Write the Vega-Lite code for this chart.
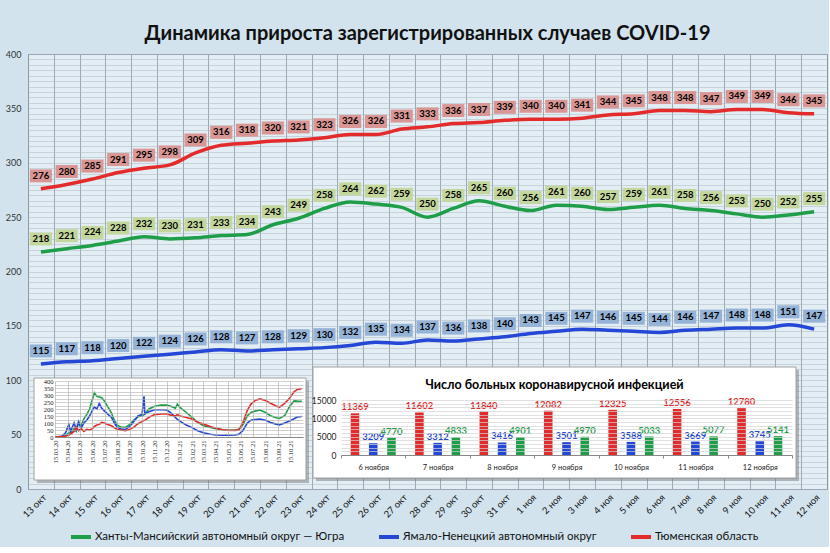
{
  "$schema": "https://vega.github.io/schema/vega-lite/v6.json",
  "background": "#d2e3ee",
  "padding": {"left": 5, "top": 24, "right": 2, "bottom": 2},
  "title": {
    "text": "Динамика прироста зарегистрированных случаев COVID-19",
    "fontSize": 20,
    "font": "Lato",
    "fontWeight": "bold",
    "color": "#111111",
    "anchor": "middle",
    "offset": 6
  },
  "datasets": {
    "main": [
      {"d": "13 окт", "h": 218, "y": 115, "t": 276},
      {"d": "14 окт", "h": 221, "y": 117, "t": 280},
      {"d": "15 окт", "h": 224, "y": 118, "t": 285},
      {"d": "16 окт", "h": 228, "y": 120, "t": 291},
      {"d": "17 окт", "h": 232, "y": 122, "t": 295},
      {"d": "18 окт", "h": 230, "y": 124, "t": 298},
      {"d": "19 окт", "h": 231, "y": 126, "t": 309},
      {"d": "20 окт", "h": 233, "y": 128, "t": 316},
      {"d": "21 окт", "h": 234, "y": 127, "t": 318},
      {"d": "22 окт", "h": 243, "y": 128, "t": 320},
      {"d": "23 окт", "h": 249, "y": 129, "t": 321},
      {"d": "24 окт", "h": 258, "y": 130, "t": 323},
      {"d": "25 окт", "h": 264, "y": 132, "t": 326},
      {"d": "26 окт", "h": 262, "y": 135, "t": 326},
      {"d": "27 окт", "h": 259, "y": 134, "t": 331},
      {"d": "28 окт", "h": 250, "y": 137, "t": 333},
      {"d": "29 окт", "h": 258, "y": 136, "t": 336},
      {"d": "30 окт", "h": 265, "y": 138, "t": 337},
      {"d": "31 окт", "h": 260, "y": 140, "t": 339},
      {"d": "1 ноя", "h": 256, "y": 143, "t": 340},
      {"d": "2 ноя", "h": 261, "y": 145, "t": 340},
      {"d": "3 ноя", "h": 260, "y": 147, "t": 341},
      {"d": "4 ноя", "h": 257, "y": 146, "t": 344},
      {"d": "5 ноя", "h": 259, "y": 145, "t": 345},
      {"d": "6 ноя", "h": 261, "y": 144, "t": 348},
      {"d": "7 ноя", "h": 258, "y": 146, "t": 348},
      {"d": "8 ноя", "h": 256, "y": 147, "t": 347},
      {"d": "9 ноя", "h": 253, "y": 148, "t": 349},
      {"d": "10 ноя", "h": 250, "y": 148, "t": 349},
      {"d": "11 ноя", "h": 252, "y": 151, "t": 346},
      {"d": "12 ноя", "h": 255, "y": 147, "t": 345}
    ],
    "history": [
      {"date": "2020-03-15", "h": 0, "y": 0, "t": 0},
      {"date": "2020-04-01", "h": 0, "y": 5, "t": 3},
      {"date": "2020-04-10", "h": 10, "y": 30, "t": 5},
      {"date": "2020-04-18", "h": 30, "y": 90, "t": 15},
      {"date": "2020-04-22", "h": 25, "y": 40, "t": 20},
      {"date": "2020-05-01", "h": 60, "y": 100, "t": 40},
      {"date": "2020-05-06", "h": 40, "y": 55, "t": 70},
      {"date": "2020-05-12", "h": 100, "y": 110, "t": 45},
      {"date": "2020-05-18", "h": 80, "y": 60, "t": 60},
      {"date": "2020-05-25", "h": 130, "y": 100, "t": 40},
      {"date": "2020-06-01", "h": 160, "y": 120, "t": 55},
      {"date": "2020-06-08", "h": 200, "y": 150, "t": 50},
      {"date": "2020-06-15", "h": 270, "y": 190, "t": 60},
      {"date": "2020-06-20", "h": 315, "y": 215, "t": 75},
      {"date": "2020-06-26", "h": 290, "y": 200, "t": 85},
      {"date": "2020-07-02", "h": 285, "y": 240, "t": 90},
      {"date": "2020-07-08", "h": 280, "y": 205, "t": 105},
      {"date": "2020-07-15", "h": 255, "y": 185, "t": 100},
      {"date": "2020-07-22", "h": 220, "y": 165, "t": 90},
      {"date": "2020-08-01", "h": 170, "y": 140, "t": 80},
      {"date": "2020-08-08", "h": 120, "y": 100, "t": 65},
      {"date": "2020-08-15", "h": 85, "y": 70, "t": 55},
      {"date": "2020-08-25", "h": 70, "y": 55, "t": 50},
      {"date": "2020-09-05", "h": 70, "y": 55, "t": 45},
      {"date": "2020-09-15", "h": 90, "y": 75, "t": 55},
      {"date": "2020-09-25", "h": 120, "y": 110, "t": 70},
      {"date": "2020-10-05", "h": 145, "y": 150, "t": 95},
      {"date": "2020-10-15", "h": 150, "y": 160, "t": 110},
      {"date": "2020-10-20", "h": 160, "y": 290, "t": 118},
      {"date": "2020-10-22", "h": 165, "y": 165, "t": 120},
      {"date": "2020-11-01", "h": 200, "y": 180, "t": 140},
      {"date": "2020-11-15", "h": 220, "y": 195, "t": 160},
      {"date": "2020-12-01", "h": 228, "y": 195, "t": 165},
      {"date": "2020-12-15", "h": 228, "y": 193, "t": 165},
      {"date": "2020-12-25", "h": 220, "y": 172, "t": 155},
      {"date": "2021-01-05", "h": 205, "y": 140, "t": 150},
      {"date": "2021-01-10", "h": 235, "y": 125, "t": 160},
      {"date": "2021-01-15", "h": 215, "y": 115, "t": 152},
      {"date": "2021-02-01", "h": 175, "y": 85, "t": 140},
      {"date": "2021-02-15", "h": 140, "y": 67, "t": 128},
      {"date": "2021-03-01", "h": 105, "y": 45, "t": 105},
      {"date": "2021-03-15", "h": 80, "y": 30, "t": 92},
      {"date": "2021-04-01", "h": 68, "y": 20, "t": 75},
      {"date": "2021-04-15", "h": 60, "y": 14, "t": 63},
      {"date": "2021-05-01", "h": 52, "y": 12, "t": 52},
      {"date": "2021-05-15", "h": 48, "y": 12, "t": 48},
      {"date": "2021-06-01", "h": 50, "y": 14, "t": 47},
      {"date": "2021-06-10", "h": 55, "y": 19, "t": 50},
      {"date": "2021-06-20", "h": 85, "y": 45, "t": 100},
      {"date": "2021-07-01", "h": 150, "y": 100, "t": 190},
      {"date": "2021-07-10", "h": 175, "y": 120, "t": 235},
      {"date": "2021-07-20", "h": 185, "y": 125, "t": 260},
      {"date": "2021-08-01", "h": 193, "y": 128, "t": 272},
      {"date": "2021-08-15", "h": 175, "y": 120, "t": 260},
      {"date": "2021-08-27", "h": 152, "y": 104, "t": 241},
      {"date": "2021-09-10", "h": 138, "y": 92, "t": 222},
      {"date": "2021-09-18", "h": 133, "y": 87, "t": 212},
      {"date": "2021-10-01", "h": 152, "y": 100, "t": 240},
      {"date": "2021-10-13", "h": 218, "y": 115, "t": 276},
      {"date": "2021-10-24", "h": 258, "y": 130, "t": 323},
      {"date": "2021-11-01", "h": 256, "y": 143, "t": 340},
      {"date": "2021-11-12", "h": 255, "y": 147, "t": 345}
    ],
    "bars": [
      {"d": "6 ноября", "t": 11369, "y": 3209, "h": 4770},
      {"d": "7 ноября", "t": 11602, "y": 3312, "h": 4833},
      {"d": "8 ноября", "t": 11840, "y": 3416, "h": 4901},
      {"d": "9 ноября", "t": 12082, "y": 3501, "h": 4970},
      {"d": "10 ноября", "t": 12325, "y": 3588, "h": 5033},
      {"d": "11 ноября", "t": 12556, "y": 3669, "h": 5077},
      {"d": "12 ноября", "t": 12780, "y": 3745, "h": 5141}
    ]
  },
  "width": 799,
  "height": 435,
  "view": {"fill": "#e3edf4", "stroke": "#8c98a4"},
  "layer": [
    {
      "data": {"name": "main"},
      "transform": [{"fold": ["h", "y", "t"], "as": ["r", "v"]}],
      "encoding": {
        "x": {
          "field": "d",
          "type": "ordinal",
          "sort": null,
          "scale": {"type": "band", "paddingInner": 0, "paddingOuter": 0},
          "axis": {
            "title": null,
            "orient": "bottom",
            "labelAngle": -45,
            "labelFontSize": 9.5,
            "labelColor": "#151515",
            "labelPadding": 3,
            "tickBand": "extent",
            "ticks": false,
            "domain": false,
            "grid": true,
            "gridColor": "#8c98a4",
            "gridWidth": 0.8
          }
        },
        "y": {
          "field": "v",
          "type": "quantitative",
          "scale": {"domain": [0, 400], "nice": false},
          "axis": {
            "title": null,
            "orient": "left",
            "tickCount": 80,
            "labelExpr": "datum.value % 50 === 0 ? datum.label : ''",
            "labelOverlap": false,
            "labelFontSize": 9,
            "labelColor": "#333333",
            "labelPadding": 7,
            "ticks": false,
            "domain": false,
            "grid": true,
            "gridColor": "#aab6c0",
            "gridWidth": 0.5
          }
        }
      },
      "layer": [
        {
          "mark": {"type": "line", "strokeWidth": 3.5, "interpolate": "monotone"},
          "encoding": {
            "color": {
              "field": "r",
              "type": "nominal",
              "scale": {"domain": ["h", "y", "t"], "range": ["#1f9e4a", "#2447d6", "#e42b2b"]},
              "legend": {
                "labelExpr": "datum.label == 'h' ? 'Ханты-Мансийский автономный округ — Югра' : datum.label == 'y' ? 'Ямало-Ненецкий автономный округ' : 'Тюменская область'"
              }
            }
          }
        },
        {
          "mark": {
            "type": "point",
            "shape": "M-1.7,-1H1.7V1H-1.7Z",
            "filled": true,
            "size": 169,
            "yOffset": -13,
            "opacity": 1,
            "strokeWidth": 0
          },
          "encoding": {
            "fill": {
              "field": "r",
              "type": "nominal",
              "scale": {"domain": ["h", "y", "t"], "range": ["#c3d69b", "#95b3d7", "#d99694"]},
              "legend": null
            }
          }
        },
        {
          "mark": {
            "type": "text",
            "yOffset": -13,
            "fontSize": 9.5,
            "fontWeight": "bold",
            "font": "Lato",
            "color": "#000000"
          },
          "encoding": {"text": {"field": "v", "type": "quantitative"}}
        }
      ]
    },
    {
      "data": {"values": [{"k": 1}]},
      "encoding": {
        "x": {"datum": 0, "type": "quantitative", "scale": {"domain": [0, 1], "range": [6, 278], "nice": false}, "axis": null},
        "x2": {"datum": 1},
        "y": {"datum": 0, "type": "quantitative", "scale": {"domain": [0, 1], "range": [426, 324], "nice": false}, "axis": null},
        "y2": {"datum": 1}
      },
      "layer": [
        {"mark": {"type": "rect", "color": "#6d6d6d", "opacity": 0.45, "xOffset": 3, "x2Offset": 3, "yOffset": 3, "y2Offset": 3}},
        {"mark": {"type": "rect", "color": "#ffffff", "stroke": "#a0a0a0", "strokeWidth": 1, "opacity": 1}}
      ]
    },
    {
      "data": {"values": [{"k": 1}]},
      "layer": [
        {
          "mark": {"type": "rect", "color": "#6d6d6d", "opacity": 0.45, "xOffset": 3, "x2Offset": 3, "yOffset": 3, "y2Offset": 3},
          "encoding": {
            "x": {"datum": 0, "type": "quantitative", "scale": {"domain": [0, 1], "range": [285, 768], "nice": false}, "axis": null},
            "x2": {"datum": 1},
            "y": {"datum": 0, "type": "quantitative", "scale": {"domain": [0, 1], "range": [424, 313], "nice": false}, "axis": null},
            "y2": {"datum": 1}
          }
        },
        {
          "mark": {"type": "rect", "color": "#ffffff", "stroke": "#a0a0a0", "strokeWidth": 1, "opacity": 1},
          "encoding": {
            "x": {"datum": 0, "type": "quantitative"},
            "x2": {"datum": 1},
            "y": {"datum": 0, "type": "quantitative"},
            "y2": {"datum": 1}
          }
        },
        {
          "mark": {
            "type": "text",
            "text": "Число больных коронавирусной инфекцией",
            "font": "Lato",
            "fontSize": 12.5,
            "fontWeight": "bold",
            "color": "#000000",
            "baseline": "middle",
            "align": "center"
          },
          "encoding": {
            "x": {"datum": 0.5, "type": "quantitative"},
            "y": {"datum": 0.838, "type": "quantitative"}
          }
        }
      ]
    },
    {
      "data": {"name": "history"},
      "transform": [{"fold": ["h", "y", "t"], "as": ["r", "v"]}],
      "mark": {"type": "line", "strokeWidth": 1.6, "opacity": 0},
      "encoding": {
        "x": {
          "field": "date",
          "type": "temporal",
          "scale": {
            "domain": [{"year": 2020, "month": 3, "date": 15}, {"year": 2021, "month": 11, "date": 15}],
            "range": [27, 275]
          },
          "axis": {
            "title": null,
            "orient": "top",
            "zindex": 1,
            "values": [
              {"year": 2020, "month": 3, "date": 15}, {"year": 2020, "month": 4, "date": 15},
              {"year": 2020, "month": 5, "date": 15}, {"year": 2020, "month": 6, "date": 15},
              {"year": 2020, "month": 7, "date": 15}, {"year": 2020, "month": 8, "date": 15},
              {"year": 2020, "month": 9, "date": 15}, {"year": 2020, "month": 10, "date": 15},
              {"year": 2020, "month": 11, "date": 15}, {"year": 2020, "month": 12, "date": 15},
              {"year": 2021, "month": 1, "date": 15}, {"year": 2021, "month": 2, "date": 15},
              {"year": 2021, "month": 3, "date": 15}, {"year": 2021, "month": 4, "date": 15},
              {"year": 2021, "month": 5, "date": 15}, {"year": 2021, "month": 6, "date": 15},
              {"year": 2021, "month": 7, "date": 15}, {"year": 2021, "month": 8, "date": 15},
              {"year": 2021, "month": 9, "date": 15}, {"year": 2021, "month": 10, "date": 15}
            ],
            "labels": false,
            "ticks": false,
            "domain": false,
            "grid": true,
            "gridColor": "#a8a8a8",
            "gridWidth": 0.6
          }
        },
        "y": {
          "field": "v",
          "type": "quantitative",
          "scale": {"domain": [0, 400], "range": [383, 327], "nice": false},
          "axis": null
        },
        "color": {"field": "r", "type": "nominal", "scale": {"domain": ["h", "y", "t"], "range": ["#1f9e4a", "#2447d6", "#e42b2b"]}}
      }
    },
    {
      "data": {"name": "history"},
      "transform": [{"fold": ["h", "y", "t"], "as": ["r", "v"]}],
      "mark": {"type": "line", "strokeWidth": 1.6, "zindex": 3},
      "encoding": {
        "x": {
          "field": "date",
          "type": "temporal",
          "scale": {
            "domain": [{"year": 2020, "month": 3, "date": 15}, {"year": 2021, "month": 11, "date": 15}],
            "range": [27, 275]
          },
          "axis": {
            "title": null,
            "orient": "bottom",
            "zindex": 1,
            "values": [
              {"year": 2020, "month": 3, "date": 15}, {"year": 2020, "month": 4, "date": 15},
              {"year": 2020, "month": 5, "date": 15}, {"year": 2020, "month": 6, "date": 15},
              {"year": 2020, "month": 7, "date": 15}, {"year": 2020, "month": 8, "date": 15},
              {"year": 2020, "month": 9, "date": 15}, {"year": 2020, "month": 10, "date": 15},
              {"year": 2020, "month": 11, "date": 15}, {"year": 2020, "month": 12, "date": 15},
              {"year": 2021, "month": 1, "date": 15}, {"year": 2021, "month": 2, "date": 15},
              {"year": 2021, "month": 3, "date": 15}, {"year": 2021, "month": 4, "date": 15},
              {"year": 2021, "month": 5, "date": 15}, {"year": 2021, "month": 6, "date": 15},
              {"year": 2021, "month": 7, "date": 15}, {"year": 2021, "month": 8, "date": 15},
              {"year": 2021, "month": 9, "date": 15}, {"year": 2021, "month": 10, "date": 15}
            ],
            "format": "%d.%m.%y",
            "labelAngle": -90,
            "labelFont": "Liberation Serif",
            "labelFontSize": 6.5,
            "labelColor": "#222222",
            "labelOverlap": false,
            "labelPadding": 3,
            "offset": -52,
            "ticks": false,
            "domain": true,
            "domainColor": "#888888",
            "grid": false
          }
        },
        "y": {
          "field": "v",
          "type": "quantitative",
          "scale": {"domain": [0, 400], "range": [383, 327], "nice": false},
          "axis": {
            "title": null,
            "orient": "left",
            "zindex": 1,
            "values": [0, 25, 50, 75, 100, 125, 150, 175, 200, 225, 250, 275, 300, 325, 350, 375, 400],
            "labelExpr": "datum.value % 50 === 0 ? datum.label : ''",
            "labelOverlap": false,
            "labelFont": "Liberation Serif",
            "labelFontSize": 6.5,
            "labelColor": "#222222",
            "labelPadding": 2,
            "offset": -27,
            "ticks": false,
            "domain": false,
            "grid": true,
            "gridColor": "#b0b0b0",
            "gridWidth": 0.6
          }
        },
        "color": {
          "field": "r",
          "type": "nominal",
          "scale": {"domain": ["h", "y", "t"], "range": ["#1f9e4a", "#2447d6", "#e42b2b"]},
          "legend": {
            "labelExpr": "datum.label == 'h' ? 'Ханты-Мансийский автономный округ — Югра' : datum.label == 'y' ? 'Ямало-Ненецкий автономный округ' : 'Тюменская область'"
          }
        }
      }
    },
    {
      "data": {"name": "bars"},
      "transform": [{"fold": ["t", "y", "h"], "as": ["r", "v"]}],
      "encoding": {
        "x": {
          "field": "d",
          "type": "nominal",
          "sort": null,
          "scale": {"range": [313, 764], "paddingInner": 0, "paddingOuter": 0},
          "axis": {
            "title": null,
            "orient": "bottom",
            "zindex": 1,
            "labelAngle": 0,
            "labelFontSize": 7.5,
            "labelColor": "#222222",
            "labelPadding": 5,
            "offset": -34,
            "tickBand": "extent",
            "ticks": true,
            "tickSize": 3,
            "tickColor": "#888888",
            "domain": true,
            "domainColor": "#888888",
            "grid": false
          }
        },
        "xOffset": {
          "field": "r",
          "type": "nominal",
          "sort": ["t", "y", "h"],
          "scale": {"paddingInner": 0.53, "paddingOuter": 0.53}
        },
        "y": {
          "field": "v",
          "type": "quantitative",
          "scale": {"domain": [0, 15000], "range": [401, 346], "nice": false},
          "axis": {
            "title": null,
            "orient": "left",
            "zindex": 1,
            "values": [0, 1000, 2000, 3000, 4000, 5000, 6000, 7000, 8000, 9000, 10000, 11000, 12000, 13000, 14000, 15000],
            "labelExpr": "datum.value % 5000 === 0 ? datum.label : ''",
            "format": "d",
            "labelOverlap": false,
            "labelFontSize": 8.5,
            "labelColor": "#222222",
            "labelPadding": 5,
            "offset": -313,
            "ticks": false,
            "domain": false,
            "grid": true,
            "gridColor": "#d2d2d2",
            "gridWidth": 0.7
          }
        },
        "color": {
          "field": "r",
          "type": "nominal",
          "scale": {"domain": ["h", "y", "t"], "range": ["#1f9e4a", "#2447d6", "#e42b2b"]},
          "legend": {
            "labelExpr": "datum.label == 'h' ? 'Ханты-Мансийский автономный округ — Югра' : datum.label == 'y' ? 'Ямало-Ненецкий автономный округ' : 'Тюменская область'"
          }
        }
      },
      "layer": [
        {"mark": {"type": "bar", "zindex": 3, "opacity": 1}},
        {
          "mark": {"type": "text", "baseline": "bottom", "dy": -1, "fontSize": 9.5, "fontWeight": "bold", "font": "Lato", "zindex": 3},
          "encoding": {"text": {"field": "v", "type": "quantitative", "format": "d"}}
        }
      ]
    }
  ],
  "resolve": {
    "scale": {"x": "independent", "y": "independent", "xOffset": "independent"},
    "axis": {"x": "independent", "y": "independent"}
  },
  "config": {
    "font": "Lato",
    "legend": {
      "orient": "none",
      "legendX": 41,
      "legendY": 471,
      "direction": "horizontal",
      "title": null,
      "symbolType": "stroke",
      "symbolStrokeWidth": 4,
      "symbolSize": 400,
      "labelFont": "Lato",
      "labelFontSize": 11.5,
      "labelColor": "#111111",
      "labelLimit": 400,
      "columnPadding": 26,
      "labelOffset": 2
    }
  }
}
